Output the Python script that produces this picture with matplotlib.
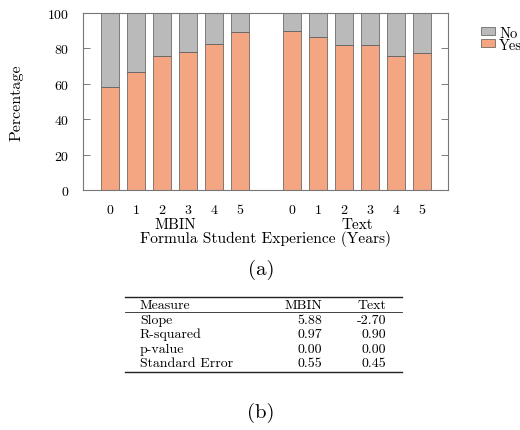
import numpy as np
import matplotlib
matplotlib.use("Agg")
import matplotlib.pyplot as plt
from matplotlib.lines import Line2D

plt.rcParams["font.family"] = ["cmr10", "DejaVu Serif"]
plt.rcParams["axes.formatter.use_mathtext"] = True

# ---- data ----
years = [0, 1, 2, 3, 4, 5]
groups = ["MBIN", "Text"]
yes_mbin = [58.0, 66.7, 75.7, 78.1, 82.5, 89.1]
yes_text = [89.8, 86.3, 81.7, 81.7, 75.9, 77.4]

table_header = ["Measure", "MBIN", "Text"]
table_measures = ["Slope", "R-squared", "p-value", "Standard Error"]
table_mbin = ["5.88", "0.97", "0.00", "0.55"]
table_text = ["-2.70", "0.90", "0.00", "0.45"]

yes_color = "#f4a582"
no_color = "#bababa"
edge = "#555555"

fig = plt.figure(figsize=(5.2, 4.31), dpi=100)
ax = fig.add_axes([83 / 520, 1 - 191 / 431, 365 / 520, 177 / 431])

pos_mbin = np.array(years)
pos_text = np.array(years) + 7
yes_all = np.array(yes_mbin + yes_text)
pos_all = np.concatenate([pos_mbin, pos_text])
no_all = 100 - yes_all

w = 0.72
ax.bar(pos_all, yes_all, width=w, color=yes_color, edgecolor=edge, linewidth=0.5, label="Yes")
ax.bar(pos_all, no_all, width=w, bottom=yes_all, color=no_color, edgecolor=edge, linewidth=0.5, label="No")

ax.set_xlim(-1.04, 13.0)
ax.set_ylim(0, 100)
ax.set_yticks([0, 20, 40, 60, 80, 100])
ax.set_xticks(pos_all)
ax.set_xticklabels([str(y) for y in years] * 2)
ax.tick_params(axis="x", length=0, pad=10, labelsize=10)
ax.tick_params(axis="y", left=True, right=True, direction="in", length=5,
               width=0.6, color="#666666", pad=10, labelsize=10)
for s in ax.spines.values():
    s.set_color("#777777")
    s.set_linewidth(0.8)

trans = ax.get_xaxis_transform()
ax.text(pos_mbin.mean(), -0.192, groups[0], transform=trans, ha="center", va="center", fontsize=11)
ax.text(pos_text.mean(), -0.192, groups[1], transform=trans, ha="center", va="center", fontsize=11)
ax.set_xlabel("Formula Student Experience (Years)", fontsize=11.2, labelpad=10)
ax.set_ylabel("Percentage", fontsize=11.5, labelpad=17)

h, l = ax.get_legend_handles_labels()
fig.legend(h[::-1], l[::-1], loc="upper left", bbox_to_anchor=(475 / 520, 1 - 21 / 431),
           frameon=False, fontsize=10.5, handlelength=1.0, handleheight=0.45,
           handletextpad=0.25, labelspacing=-0.12, borderaxespad=0)

fig.text(261 / 520, 1 - 270 / 431, "(a)", ha="center", va="center", fontsize=15)
fig.text(261 / 520, 1 - 413 / 431, "(b)", ha="center", va="center", fontsize=15)

# ---- table ----
def fy(py):
    return 1 - py / 431

x0, x1 = 125 / 520, 402 / 520
fs = 10
for y, lw in [(298, 1.0), (313, 0.6), (372.5, 1.0)]:
    fig.add_artist(Line2D([x0, x1], [fy(y), fy(y)], color="#222222", linewidth=lw))

col_left = 140 / 520
col_mbin = 322 / 520
col_text = 386 / 520
fig.text(col_left, fy(309.5), table_header[0], ha="left", va="baseline", fontsize=fs)
fig.text(col_mbin, fy(309.5), table_header[1], ha="right", va="baseline", fontsize=fs)
fig.text(col_text, fy(309.5), table_header[2], ha="right", va="baseline", fontsize=fs)
row_base = [324, 338.5, 353, 367.5]
for i, m in enumerate(table_measures):
    fig.text(col_left, fy(row_base[i]), m, ha="left", va="baseline", fontsize=fs)
    fig.text(col_mbin, fy(row_base[i]), table_mbin[i], ha="right", va="baseline", fontsize=fs)
    fig.text(col_text, fy(row_base[i]), table_text[i], ha="right", va="baseline", fontsize=fs)

fig.savefig("out.png", dpi=100)
